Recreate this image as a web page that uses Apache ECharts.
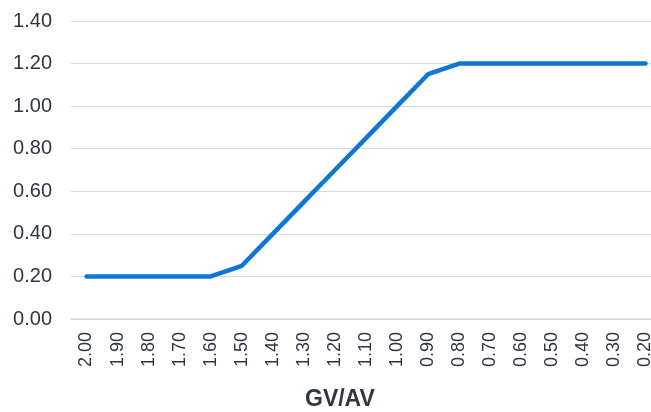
<!DOCTYPE html>
<html>
<head>
<meta charset="utf-8">
<script src="https://cdn.jsdelivr.net/npm/echarts@6/dist/echarts.min.js"></script>
<style>
html, body { margin: 0; padding: 0; background: #fff; }
#main { width: 651px; height: 412px; }
</style>
</head>
<body>
<div id="main"></div>
<script>
// GV/AV ratio categories
var ratios = ['2.00', '1.90', '1.80', '1.70', '1.60', '1.50', '1.40', '1.30', '1.20', '1.10',
  '1.00', '0.90', '0.80', '0.70', '0.60', '0.50', '0.40', '0.30', '0.20'];
var values = [0.20, 0.20, 0.20, 0.20, 0.20, 0.25, 0.40, 0.55, 0.70, 0.85,
  1.00, 1.15, 1.20, 1.20, 1.20, 1.20, 1.20, 1.20, 1.20];
var axisTitle = 'GV/AV';

var chart = echarts.init(document.getElementById('main'));
var option = {
  animation: false,
  grid: { left: 71, right: -10, top: 21, bottom: 93, containLabel: false, outerBoundsMode: 'none' },
  graphic: [{
    type: 'text',
    left: 305,
    top: 388,
    style: {
      text: axisTitle,
      font: 'bold 23px "Liberation Sans", Arial, sans-serif',
      fill: '#2f3542'
    }
  }],
  xAxis: {
    type: 'category',
    data: ratios,
    boundaryGap: true,
    axisLine: { lineStyle: { color: '#d9d9d9', width: 1.5 } },
    axisTick: { show: false },
    axisLabel: {
      rotate: 90,
      margin: 13,
      interval: 0,
      fontSize: 18,
      color: '#2f3542',
      fontFamily: '"Liberation Sans", Arial, sans-serif'
    }
  },
  yAxis: {
    type: 'value',
    min: 0,
    max: 1.4,
    interval: 0.2,
    axisLine: { show: false },
    axisTick: { show: false },
    splitLine: { lineStyle: { color: '#d9d9d9', width: 1 } },
    axisLabel: {
      margin: 19,
      fontSize: 20,
      color: '#2f3542',
      fontFamily: '"Liberation Sans", Arial, sans-serif',
      formatter: function (v) { return v.toFixed(2); }
    }
  },
  series: [{
    type: 'line',
    data: values,
    symbol: 'none',
    lineStyle: { color: '#0a78d4', width: 4.5, cap: 'round', join: 'round' }
  }]
};
chart.setOption(option);
</script>
</body>
</html>
